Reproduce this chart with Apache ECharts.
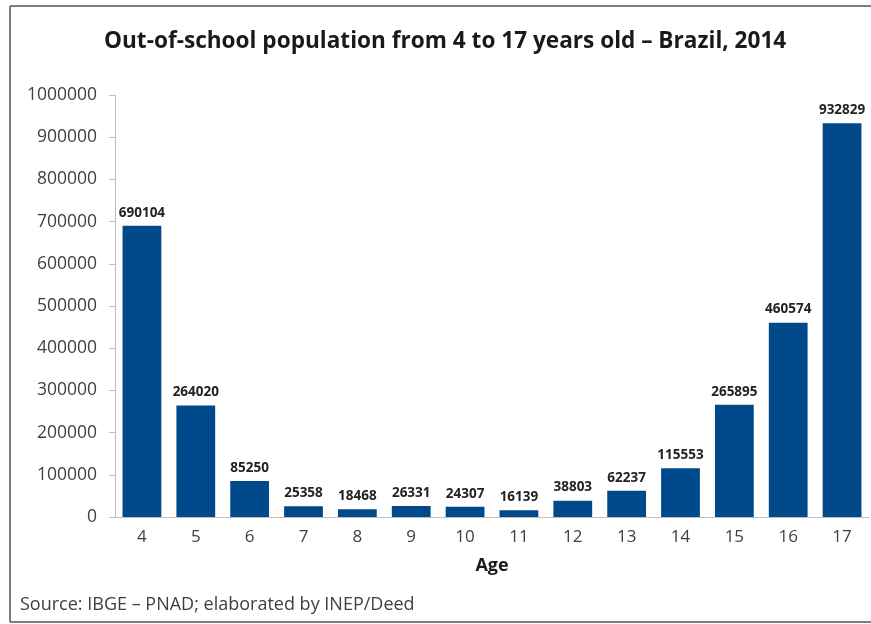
<!DOCTYPE html>
<html><head><meta charset="utf-8">
<script src="https://cdn.jsdelivr.net/npm/echarts@6/dist/echarts.min.js"></script>
<style>html,body{margin:0;padding:0;background:#fff;overflow:hidden}#c{width:871px;height:624px}</style>
</head><body><div id="c"></div>
<script>
const ages = ['4','5','6','7','8','9','10','11','12','13','14','15','16','17'];
const outOfSchool = [690104,264020,85250,25358,18468,26331,24307,16139,38803,62237,115553,265895,460574,932829];
const yTicks = {min:0, max:1000000, interval:100000};
const titleText = 'Out-of-school population from 4 to 17 years old – Brazil, 2014';
const sourceText = 'Source: IBGE – PNAD; elaborated by INEP/Deed';
const xName = 'Age';

const chart = echarts.init(document.getElementById('c'));
const ff = 'Open Sans, Noto Sans, sans-serif';
chart.setOption({
  animation:false,
  title:{text:titleText,left:99,top:25,textStyle:{fontFamily:ff,fontSize:22.6,fontWeight:'bold',color:'#1a1a1a'}},
  graphic:[
    {type:'line',shape:{x1:10,y1:6,x2:871,y2:6},style:{stroke:'#555',lineWidth:1.5}},
    {type:'line',shape:{x1:10,y1:6,x2:10,y2:622},style:{stroke:'#555',lineWidth:1.5}},
    {type:'line',shape:{x1:10,y1:622,x2:871,y2:622},style:{stroke:'#555',lineWidth:1.5}},
    {type:'text',left:20,top:596,style:{text:sourceText,font:'18px '+ff,fill:'#404040'}}
  ],
  grid:{left:115,right:2,top:95,bottom:107,containLabel:false},
  xAxis:{type:'category',data:ages,name:xName,nameLocation:'middle',nameGap:40,
    nameTextStyle:{fontFamily:ff,fontSize:18,fontWeight:'bold',color:'#1a1a1a'},
    axisLine:{lineStyle:{color:'#bfbfbf'}},axisTick:{length:7,lineStyle:{color:'#bfbfbf'}},
    axisLabel:{fontFamily:ff,fontSize:17,color:'#404040',margin:12}},
  yAxis:{type:'value',min:yTicks.min,max:yTicks.max,interval:yTicks.interval,
    axisLine:{show:true,lineStyle:{color:'#bfbfbf'}},axisTick:{show:true,length:6,lineStyle:{color:'#bfbfbf'}},
    splitLine:{show:false},axisLabel:{fontFamily:ff,fontSize:17.5,color:'#404040',margin:18,formatter:v=>String(v)}},
  series:[{type:'bar',data:outOfSchool,barCategoryGap:'28%',itemStyle:{color:'#004a8c'},
    label:{show:true,position:'top',distance:6,fontFamily:ff,fontSize:13.5,fontWeight:'bold',color:'#222'}}]
});
</script></body></html>
